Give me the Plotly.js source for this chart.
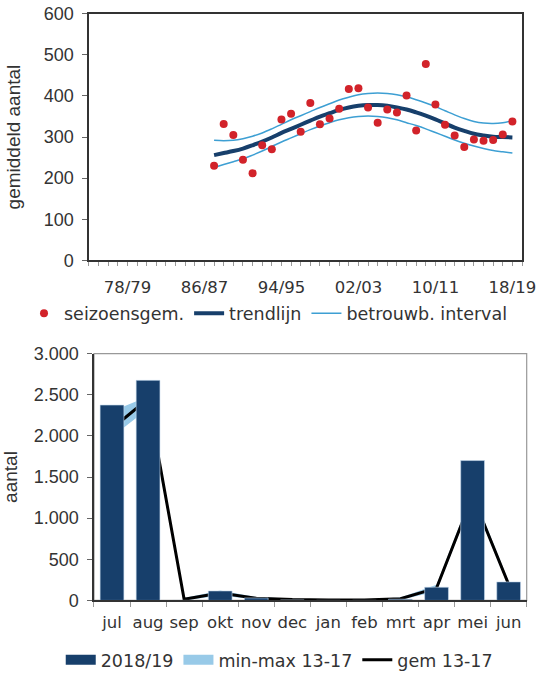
<!DOCTYPE html>
<html>
<head>
<meta charset="utf-8">
<script src="https://cdn.plot.ly/plotly-3.0.1.min.js"></script>
<style>html,body{margin:0;padding:0;background:#fff;}#chart{width:537px;height:678px;}</style>
</head>
<body>
<div id="chart"></div>
<script>
// ---------- top chart data ----------
const axisSeasons = ['74/75','75/76','76/77','77/78','78/79','79/80','80/81','81/82','82/83','83/84','84/85','85/86','86/87','87/88','88/89','89/90','90/91','91/92','92/93','93/94','94/95','95/96','96/97','97/98','98/99','99/00','00/01','01/02','02/03','03/04','04/05','05/06','06/07','07/08','08/09','09/10','10/11','11/12','12/13','13/14','14/15','15/16','16/17','17/18','18/19','19/20'];
const labelledSeasons = ['78/79','86/87','94/95','02/03','10/11','18/19'];
const seasons = ['87/88','88/89','89/90','90/91','91/92','92/93','93/94','94/95','95/96','96/97','97/98','98/99','99/00','00/01','01/02','02/03','03/04','04/05','05/06','06/07','07/08','08/09','09/10','10/11','11/12','12/13','13/14','14/15','15/16','16/17','17/18','18/19'];
const seasonMean = [230,332,305,245,212,280,270,343,357,313,383,331,345,369,417,419,372,335,367,360,401,316,478,379,330,304,276,294,291,293,306,338];
const trend      = [256,261,266,272,280,289,299,310,320,330,340,350,358,366,372,376,378,378,376,372,367,360,352,343,333,323,315,308,304,301,300,299];
const upperCI    = [292,291,292,296,302,310,320,331,342,352,362,372,381,390,397,403,406,407,406,403,398,391,383,374,364,354,345,338,334,333,335,340];
const lowerCI    = [226,233,240,247,256,266,277,288,298,308,318,327,335,342,347,350,351,350,347,342,335,328,320,311,302,293,285,278,272,267,264,261];

// ---------- bottom chart data ----------
const months  = ['jul','aug','sep','okt','nov','dec','jan','feb','mrt','apr','mei','jun'];
const cur1819 = [2375,2675,0,115,30,5,0,0,15,160,1700,225];
const mean1317= [2090,2450,15,90,25,10,5,5,20,150,1270,195];
const min1317 = [1990,2330,0,60,10,0,0,0,5,110,1230,170];
const max1317 = [2300,2480,30,120,40,20,10,10,35,190,1320,230];

const navy = '#173f6b';
const red = '#d2232a';
const ciBlue = '#3d9fd3';
const band = '#98cae8';
const tickFont = {family:'DejaVu Sans', size:16.5, color:'#333'};
const monthFont = {family:'DejaVu Sans', size:16.5, color:'#333'};
const legFont = {family:'DejaVu Sans', size:17.5, color:'#333'};
const numFont = {family:'Liberation Sans, Arial', size:18, color:'#333'};

const traces = [
  {x:seasons, y:upperCI, type:'scatter', mode:'lines', line:{color:ciBlue, width:1.5, shape:'spline'}, name:'betrouwb. interval', legend:'legend', legendrank:3, xaxis:'x', yaxis:'y'},
  {x:seasons, y:lowerCI, type:'scatter', mode:'lines', line:{color:ciBlue, width:1.5, shape:'spline'}, showlegend:false, xaxis:'x', yaxis:'y'},
  {x:seasons, y:trend, type:'scatter', mode:'lines', line:{color:navy, width:4, shape:'spline'}, name:'trendlijn', legend:'legend', legendrank:2, xaxis:'x', yaxis:'y'},
  {x:seasons, y:seasonMean, type:'scatter', mode:'markers', marker:{color:red, size:8}, name:'seizoensgem.', legend:'legend', legendrank:1, xaxis:'x', yaxis:'y'},

  {x:months, y:min1317, type:'scatter', mode:'lines', line:{color:'rgba(0,0,0,0)', width:0}, showlegend:false, hoverinfo:'skip', xaxis:'x2', yaxis:'y2'},
  {x:months, y:max1317, type:'scatter', mode:'lines', line:{color:'rgba(0,0,0,0)', width:0}, fill:'tonexty', fillcolor:band, showlegend:false, xaxis:'x2', yaxis:'y2'},
  {x:months, y:mean1317, type:'scatter', mode:'lines', line:{color:'#000', width:3}, name:'gem 13-17', legend:'legend2', legendrank:3, xaxis:'x2', yaxis:'y2'},
  {x:months, y:cur1819, type:'bar', marker:{color:navy, line:{color:'#c8dcef', width:0.6}}, showlegend:false, xaxis:'x2', yaxis:'y3'},
  // legend keys drawn as wide blocks, as in the original
  {x:[null], y:[null], type:'scatter', mode:'lines', line:{color:navy, width:11}, name:'2018/19', legend:'legend2', legendrank:1, xaxis:'x2', yaxis:'y2'},
  {x:[null], y:[null], type:'scatter', mode:'lines', line:{color:band, width:11}, name:'min-max 13-17', legend:'legend2', legendrank:2, xaxis:'x2', yaxis:'y2'}
];

const layout = {
  width:537, height:678,
  margin:{l:0,r:0,t:0,b:0},
  paper_bgcolor:'#fff', plot_bgcolor:'rgba(0,0,0,0)',
  separators:',.',
  showlegend:true,
  bargap:0.34,
  xaxis:{domain:[0.1657,0.9721], anchor:'y', type:'category', categoryorder:'array', categoryarray:axisSeasons,
    range:[0,45], tickmode:'array', tickvals:axisSeasons,
    ticktext:axisSeasons.map(s => labelledSeasons.includes(s) ? s : ''),
    ticks:'outside', ticklen:4, tickcolor:'#999', tickwidth:1, ticklabelstandoff:7, tickangle:0,
    showline:true, linecolor:'#333', linewidth:1.5, mirror:true, showgrid:false, zeroline:false, tickfont:tickFont},
  yaxis:{domain:[0.6121,0.9794], anchor:'x', range:[0,600], dtick:100, tick0:0,
    ticks:'outside', ticklen:5, tickcolor:'#666', ticklabelstandoff:5,
    showline:true, linecolor:'#333', linewidth:1.5, mirror:true, showgrid:false, zeroline:false,
    tickfont:numFont, title:{text:'gemiddeld aantal', font:{family:'Liberation Sans, Arial', size:19, color:'#333'}, standoff:18}},
  xaxis2:{domain:[0.175,0.9808], anchor:'y2', type:'category', categoryorder:'array', categoryarray:months,
    tickson:'boundaries', ticks:'outside', ticklen:5, tickcolor:'#999', ticklabelstandoff:6, tickangle:0,
    showline:true, linecolor:'#333', linewidth:1.5, showgrid:false, zeroline:false, tickfont:monthFont},
  yaxis2:{domain:[0.1052,0.4730], anchor:'x2', range:[0,3000], dtick:500, tick0:0, tickformat:',',
    ticks:'outside', ticklen:5, tickcolor:'#666', ticklabelstandoff:5,
    showline:true, linecolor:'#333', linewidth:1.5, showgrid:false, zeroline:false,
    tickfont:numFont, title:{text:'aantal', font:{family:'Liberation Sans, Arial', size:19, color:'#333'}, standoff:12}},
  yaxis3:{overlaying:'y2', anchor:'x2', range:[0,3000], visible:false},
  shapes:[{type:'rect', xref:'x2 domain', yref:'y2 domain', x0:0, x1:1, y0:0, y1:1, line:{color:'#999', width:1.2}, layer:'below'}],
  legend:{orientation:'h', x:0.5, xanchor:'center', y:1-316.7/678, yanchor:'middle', font:legFont, traceorder:'normal', itemwidth:30, bgcolor:'rgba(0,0,0,0)'},
  legend2:{orientation:'h', x:0.52, xanchor:'center', y:1-666.7/678, yanchor:'middle', font:legFont, traceorder:'normal', itemwidth:30, bgcolor:'rgba(0,0,0,0)'}
};

Plotly.newPlot('chart', traces, layout, {staticPlot:true, displayModeBar:false});
</script>
</body>
</html>
